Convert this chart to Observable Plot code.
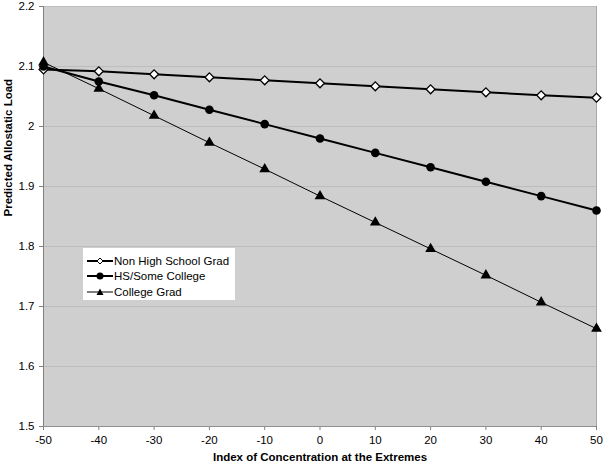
<!DOCTYPE html>
<html><head><meta charset="utf-8">
<script src="https://cdn.jsdelivr.net/npm/d3@7"></script>
<script src="https://cdn.jsdelivr.net/npm/@observablehq/plot@0.6"></script>
<style>
body{margin:0;background:#fff;font-family:Arial,"Liberation Sans",sans-serif;}
#wrap{position:relative;width:605px;height:465px;}
#legend{position:absolute;left:83px;top:248px;width:152px;height:52px;background:#fff;font-size:11.5px;color:#000;padding-top:5px;box-sizing:border-box;}
#legend div{height:15.5px;display:flex;align-items:center;white-space:nowrap;}
#legend svg{margin-left:4px;margin-right:1px;flex:none;}
</style></head><body>
<div id="wrap"><div id="chart"></div><div id="legend"></div></div>
<script>
const xValues = [-50,-40,-30,-20,-10,0,10,20,30,40,50];
const seriesNames = ["Non High School Grad","HS/Some College","College Grad"];
const nonHS = [2.095,2.092,2.087,2.082,2.077,2.072,2.067,2.062,2.057,2.052,2.048];
const hsSome = [2.100,2.075,2.052,2.028,2.004,1.980,1.956,1.932,1.908,1.884,1.860];
const college = [2.107,2.063,2.018,1.973,1.929,1.884,1.840,1.796,1.752,1.707,1.663];
const yTicks = [1.5,1.6,1.7,1.8,1.9,2,2.1,2.2];
const xTicks = [-50,-40,-30,-20,-10,0,10,20,30,40,50];

const data = [];
[nonHS,hsSome,college].forEach((arr,i)=>arr.forEach((v,j)=>data.push({series:seriesNames[i],x:xValues[j],y:v})));
const sw = {"Non High School Grad":2,"HS/Some College":2,"College Grad":1};

const chart = Plot.plot({
  width:605,height:465,
  marginLeft:43,marginRight:9,marginTop:6,marginBottom:39,
  style:{fontFamily:"Arial, 'Liberation Sans', sans-serif",fontSize:"11px",background:"#fff",color:"#000"},
  x:{domain:[-50,50],ticks:xTicks,tickSize:4,tickPadding:3,tickFormat:d=>String(d),label:null},
  y:{domain:[1.5,2.2],ticks:yTicks,tickSize:4,tickPadding:4,tickFormat:d=>String(d),label:null},
  marks:[
    Plot.frame({fill:"#cfcfcf",stroke:"#a8a8a8"}),
    Plot.gridY(yTicks,{stroke:"#bdbdbd",strokeOpacity:1,strokeWidth:1}),
    Plot.axisX({ticks:xTicks,tickSize:4,tickFormat:d=>String(d),fontSize:11.5,stroke:"#808080"}),
    Plot.axisY({ticks:yTicks,tickSize:4,tickFormat:d=>String(d),fontSize:11.5,stroke:"#808080"}),
    Plot.ruleX([-50],{stroke:"#808080"}),
    Plot.ruleY([1.5],{stroke:"#909090"}),
    ...seriesNames.map(s=>Plot.line(data.filter(d=>d.series===s),{x:"x",y:"y",stroke:"#000",strokeWidth:sw[s]})),
    Plot.dot(data.filter(d=>d.series===seriesNames[0]),{x:"x",y:"y",symbol:"diamond2",r:4,fill:"#fff",stroke:"#000",strokeWidth:1.3}),
    Plot.dot(data.filter(d=>d.series===seriesNames[1]),{x:"x",y:"y",symbol:"circle",r:4.3,fill:"#000",stroke:"none"}),
    Plot.dot(data.filter(d=>d.series===seriesNames[2]),{x:"x",y:"y",symbol:"triangle",r:4,fill:"#000",stroke:"none"}),
    Plot.text(["Index of Concentration at the Extremes"],{frameAnchor:"bottom",dy:34,fontWeight:"bold",fontSize:11.5}),
    Plot.text(["Predicted Allostatic Load"],{frameAnchor:"left",dx:-35,rotate:-90,fontWeight:"bold",fontSize:11.5})
  ]
});
document.getElementById("chart").appendChild(chart);

const legend = document.getElementById("legend");
const markers = [
  '<polygon points="13,2 16,5 13,8 10,5" fill="#fff" stroke="#000" stroke-width="1"/>',
  '<circle cx="13" cy="5" r="3.5" fill="#000"/>',
  '<polygon points="13,1.5 16.5,8 9.5,8" fill="#000"/>'
];
seriesNames.forEach((s,i)=>{
  const row=document.createElement("div");
  row.innerHTML=`<svg width="26" height="10"><line x1="0" x2="26" y1="5" y2="5" stroke="#000" stroke-width="${sw[s]}"/>${markers[i]}</svg><span>${s}</span>`;
  legend.appendChild(row);
});
</script>
</body></html>
